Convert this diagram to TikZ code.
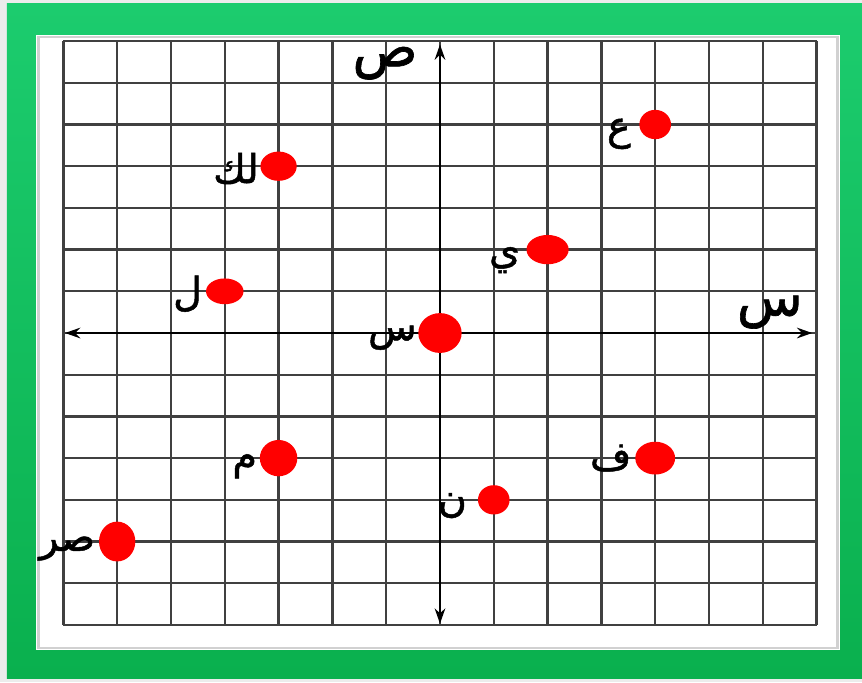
\documentclass[tikz,border=0pt]{standalone}
\usepackage{fontspec}
\newfontfamily\arabicfont[Script=Arabic, FakeBold=1.2]{DejaVu Sans}
\TeXXeTstate=1
\usetikzlibrary{arrows.meta, positioning, shapes.geometric}
\definecolor{greentop}{RGB}{28,204,110}
\definecolor{greenbot}{RGB}{10,176,78}
\definecolor{pagegray}{RGB}{236,236,236}
\definecolor{dotred}{RGB}{255,0,0}
\newcommand{\arab}[1]{\arabicfont\beginR #1\endR}

\begin{document}
\begin{tikzpicture}[x=1.614cm, y=1.251cm,
  gridline/.style={black!75, line width=2pt},
  axisline/.style={black, line width=2.2pt, {Stealth[length=13pt,width=9pt]}-{Stealth[length=13pt,width=9pt]}},
  dot/.style 2 args={ellipse, fill=dotred, inner sep=0pt, minimum width=#1, minimum height=#2},
  lbl/.style={inner sep=0pt, font=\fontsize{34}{34}\selectfont\arabicfont},
  axlbl/.style={inner sep=0pt, font=\fontsize{46}{46}\selectfont\arabicfont}]
% Page and green frame
\useasboundingbox (-8.178,-8.369) rectangle (7.844,7.986);
\fill[pagegray] (-8.178,-8.369) rectangle (7.844,7.986);
\fill[top color=greentop, bottom color=greenbot] (-8.048,-8.273) rectangle (7.844,7.890);
\fill[white] (-7.509,-7.602) rectangle (7.435,7.146);
\draw[black!18, line width=2pt] (-7.46,-7.55) rectangle (7.39,7.10);
% Grid
\foreach \i in {-7,...,7} {
  \draw[gridline] (\i,-7) -- (\i,7);
  \draw[gridline] (-7,\i) -- (7,\i);
}
% Axes
\coordinate (xl) at (-6.97,0);
\coordinate (xr) at (6.92,0);
\coordinate (yb) at (0,-6.97);
\coordinate (yt) at (0,6.92);
\draw[axisline] (xl) -- (xr);
\draw[axisline] (yb) -- (yt);
\node[axlbl] (xlab) at (6.13,0.50) {\arab{س}};
\node[axlbl] (ylab) at (-1.02,6.47) {\arab{ص}};
% Points
\node[dot={37pt}{34pt}] (o) at (0,0) {};
\node[dot={27pt}{25pt}] (ain) at (4,5) {};
\node[dot={31pt}{25pt}] (lk) at (-3,4) {};
\node[dot={36pt}{25pt}] (ya) at (2,2) {};
\node[dot={32pt}{22pt}] (lam) at (-4,1) {};
\node[dot={32pt}{31pt}] (mim) at (-3,-3) {};
\node[dot={34pt}{28pt}] (fa) at (4,-3) {};
\node[dot={27pt}{25pt}] (nun) at (1,-4) {};
\node[dot={31pt}{34pt}] (sr) at (-6,-5) {};
% Point labels
\node[lbl, left=7pt of ain, yshift=-8pt] {\arab{ع}};
\node[lbl, left=1pt of lk, yshift=-2pt] {\arab{لك}};
\node[lbl, left=5pt of ya, yshift=-9pt] {\arab{ي}};
\node[lbl, left=3pt of lam, yshift=-2pt] {\arab{ل}};
\node[lbl, left=1pt of o, yshift=-4pt] {\arab{س}};
\node[lbl, left=2pt of mim, yshift=-7pt] {\arab{م}};
\node[lbl, left=3pt of fa] {\arab{ف}};
\node[lbl, left=9pt of nun, yshift=-5pt] {\arab{ن}};
\node[lbl, left=3pt of sr, yshift=-6pt] {\arab{صر}};
\end{tikzpicture}
\end{document}
